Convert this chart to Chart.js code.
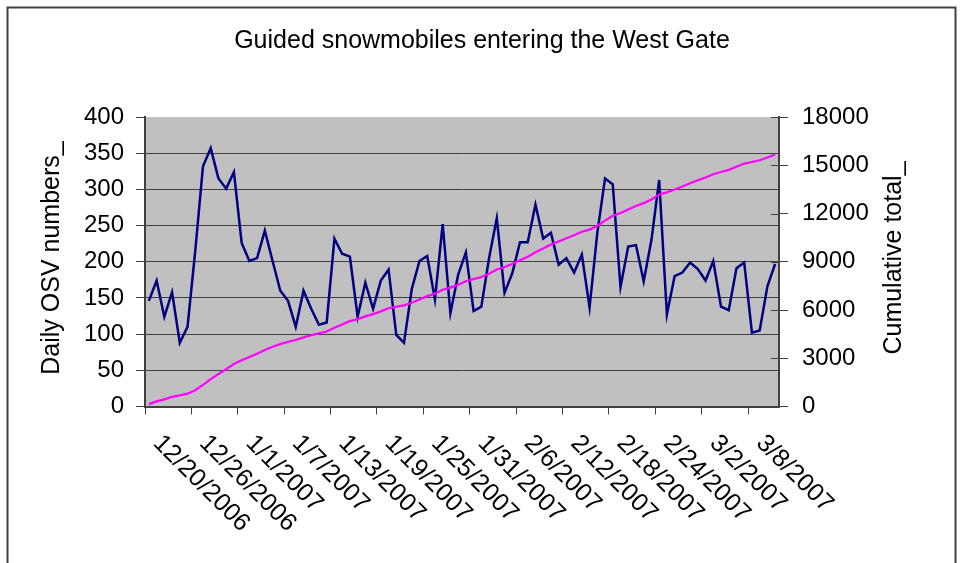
<!DOCTYPE html>
<html>
<head>
<meta charset="utf-8">
<title>Guided snowmobiles entering the West Gate</title>
<script src="https://cdn.jsdelivr.net/npm/chart.js@4.4.1/dist/chart.umd.min.js"></script>
<style>
  html, body { margin: 0; padding: 0; background: #ffffff; }
  #wrap { width: 964px; height: 563px; position: relative; }
</style>
</head>
<body>
<div id="wrap"><canvas id="chart"></canvas></div>
<script>
// Days of the season, 12/20/2006 through 3/11/2007
const dates = [
  '12/20/2006','12/21/2006','12/22/2006','12/23/2006','12/24/2006','12/25/2006','12/26/2006','12/27/2006',
  '12/28/2006','12/29/2006','12/30/2006','12/31/2006',
  '1/1/2007','1/2/2007','1/3/2007','1/4/2007','1/5/2007','1/6/2007','1/7/2007','1/8/2007','1/9/2007','1/10/2007',
  '1/11/2007','1/12/2007','1/13/2007','1/14/2007','1/15/2007','1/16/2007','1/17/2007','1/18/2007','1/19/2007',
  '1/20/2007','1/21/2007','1/22/2007','1/23/2007','1/24/2007','1/25/2007','1/26/2007','1/27/2007','1/28/2007',
  '1/29/2007','1/30/2007','1/31/2007',
  '2/1/2007','2/2/2007','2/3/2007','2/4/2007','2/5/2007','2/6/2007','2/7/2007','2/8/2007','2/9/2007','2/10/2007',
  '2/11/2007','2/12/2007','2/13/2007','2/14/2007','2/15/2007','2/16/2007','2/17/2007','2/18/2007','2/19/2007',
  '2/20/2007','2/21/2007','2/22/2007','2/23/2007','2/24/2007','2/25/2007','2/26/2007','2/27/2007','2/28/2007',
  '3/1/2007','3/2/2007','3/3/2007','3/4/2007','3/5/2007','3/6/2007','3/7/2007','3/8/2007','3/9/2007','3/10/2007',
  '3/11/2007'
];

// Daily OSV (over-snow vehicle) numbers
const dailyOSV = [
  146, 174, 124, 158,  88, 110, 215, 332, 357, 315,
  301, 324, 226, 201, 205, 243, 201, 160, 146, 110,
  160, 135, 113, 116, 232, 211, 207, 124, 171, 135,
  174, 189,  99,  88, 162, 201, 208, 148, 252, 129,
  182, 213, 132, 138, 205, 260, 157, 184, 227, 227,
  279, 232, 240, 196, 205, 185, 210, 137, 240, 315,
  307, 165, 221, 223, 173, 230, 313, 127, 180, 185,
  199, 190, 174, 201, 138, 133, 191, 199, 102, 105,
  166, 197
];

// Cumulative total for the season
const cumulativeTotal = [
    146,   320,   444,   602,   690,   800,  1015,  1347,  1704,  2019,
   2320,  2644,  2870,  3071,  3276,  3519,  3720,  3880,  4026,  4136,
   4296,  4431,  4544,  4660,  4892,  5103,  5310,  5434,  5605,  5740,
   5914,  6103,  6202,  6290,  6452,  6653,  6861,  7009,  7261,  7390,
   7572,  7785,  7917,  8055,  8260,  8520,  8677,  8861,  9088,  9315,
   9594,  9826, 10066, 10262, 10467, 10652, 10862, 10999, 11239, 11554,
  11861, 12026, 12247, 12470, 12643, 12873, 13186, 13313, 13493, 13678,
  13877, 14067, 14241, 14442, 14580, 14713, 14904, 15103, 15205, 15310,
  15476, 15673
];

const titleText = 'Guided snowmobiles entering the West Gate';
const leftTitle = 'Daily OSV numbers_';
const rightTitle = 'Cumulative total_';
const labelEvery = 6;

const FONT = '"Liberation Sans", Arial, Helvetica, sans-serif';
const AXIS = '#404040';
const CLEAR = 'rgba(0,0,0,0)';

const decorations = {
  id: 'decorations',
  beforeDraw(chart) {
    const { ctx, chartArea: a } = chart;
    ctx.save();
    ctx.fillStyle = '#c0c0c0';
    ctx.fillRect(a.left, a.top, a.right - a.left, a.bottom - a.top);
    ctx.restore();
  },
  afterDraw(chart) {
    const { ctx, chartArea: a, scales } = chart;
    ctx.save();

    // outer chart frame
    ctx.strokeStyle = AXIS;
    ctx.lineWidth = 2;
    ctx.beginPath();
    ctx.moveTo(7.5, 600);
    ctx.lineTo(7.5, 7.5);
    ctx.lineTo(955.5, 7.5);
    ctx.lineTo(955.5, 600);
    ctx.stroke();

    // inner half of the cross tick marks on the secondary axis
    const y1 = scales.y1;
    ctx.lineWidth = 1;
    ctx.beginPath();
    y1.ticks.forEach((t) => {
      const py = Math.round(y1.getPixelForValue(t.value)) + 0.5;
      ctx.moveTo(a.right - 8, py);
      ctx.lineTo(a.right, py);
    });
    ctx.stroke();

    // date labels, turned 45 degrees clockwise
    const xs = scales.x;
    ctx.fillStyle = '#000000';
    ctx.font = '25px ' + FONT;
    ctx.textAlign = 'left';
    ctx.textBaseline = 'top';
    for (let i = 0; i < dates.length; i += labelEvery) {
      const px = xs.getPixelForValue(i);
      ctx.save();
      ctx.translate(px + 17, a.bottom + 24);
      ctx.rotate(Math.PI / 4);
      ctx.fillText(dates[i], 0, 0);
      ctx.restore();
    }

    // axis titles
    ctx.font = '25px ' + FONT;
    ctx.textAlign = 'center';
    ctx.textBaseline = 'middle';
    ctx.save();
    ctx.translate(52, 258);
    ctx.rotate(-Math.PI / 2);
    ctx.fillText(leftTitle, 0, 0);
    ctx.restore();
    ctx.save();
    ctx.translate(894, 258);
    ctx.rotate(-Math.PI / 2);
    ctx.fillText(rightTitle, 0, 0);
    ctx.restore();

    ctx.restore();
  }
};

new Chart(document.getElementById('chart'), {
  type: 'line',
  data: {
    labels: dates,
    datasets: [
      {
        label: rightTitle,
        data: cumulativeTotal,
        yAxisID: 'y1',
        borderColor: '#ff00ff',
        borderWidth: 2.2,
        pointRadius: 0,
        tension: 0,
        fill: false,
        order: 1
      },
      {
        label: leftTitle,
        data: dailyOSV,
        yAxisID: 'y',
        borderColor: '#000080',
        borderWidth: 2.5,
        pointRadius: 0,
        tension: 0,
        fill: false,
        order: 2
      }
    ]
  },
  options: {
    responsive: true,
    maintainAspectRatio: false,
    animation: false,
    devicePixelRatio: 1,
    layout: { padding: 0 },
    plugins: {
      legend: { display: false },
      tooltip: { enabled: false },
      title: {
        display: true,
        text: titleText,
        color: '#000000',
        font: { family: FONT, size: 25, weight: 'normal', lineHeight: 1.2 },
        padding: { top: 26, bottom: 61 }
      }
    },
    scales: {
      x: {
        type: 'category',
        offset: true,
        afterFit(scale) { scale.height = 156.5; },
        grid: {
          offset: true,
          drawOnChartArea: false,
          drawTicks: true,
          tickLength: 8,
          tickWidth: 1,
          color: (c) => (c.index % labelEvery === 0 ? AXIS : CLEAR),
          tickColor: (c) => (c.index % labelEvery === 0 ? AXIS : CLEAR)
        },
        border: { display: true, color: AXIS, width: 2 },
        ticks: { display: false, autoSkip: false }
      },
      y: {
        position: 'left',
        min: 0,
        max: 400,
        afterFit(scale) { scale.width = 145; },
        ticks: {
          stepSize: 50,
          color: '#000000',
          padding: 12,
          font: { family: FONT, size: 24 }
        },
        grid: {
          drawOnChartArea: true,
          drawTicks: true,
          tickLength: 9,
          lineWidth: 1,
          color: (c) => (c.tick && c.tick.value === 400 ? CLEAR : AXIS),
          tickColor: AXIS
        },
        border: { display: true, color: AXIS, width: 2 }
      },
      y1: {
        position: 'right',
        min: 0,
        max: 18000,
        afterFit(scale) { scale.width = 185; },
        ticks: {
          stepSize: 3000,
          color: '#000000',
          padding: 14,
          font: { family: FONT, size: 24 },
          callback: (v) => String(v)
        },
        grid: {
          drawOnChartArea: false,
          drawTicks: true,
          tickLength: 9,
          lineWidth: 1,
          color: AXIS,
          tickColor: AXIS
        },
        border: { display: true, color: AXIS, width: 2 }
      }
    }
  },
  plugins: [decorations]
});
</script>
</body>
</html>
